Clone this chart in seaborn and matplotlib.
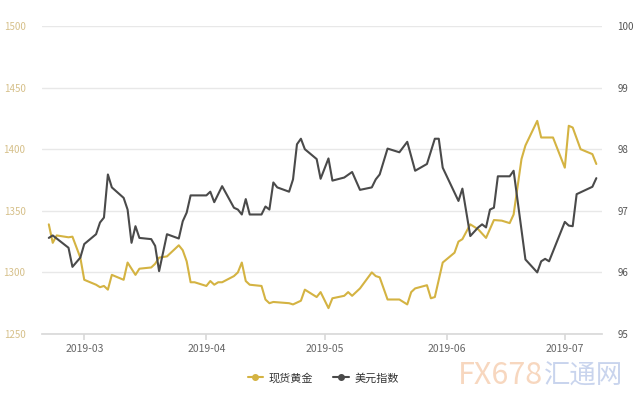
import numpy as np
import pandas as pd
import seaborn as sns
import matplotlib.pyplot as plt
import matplotlib.dates as mdates
from matplotlib.lines import Line2D

# spot gold (left axis)
gold_dates = ['2019-02-20', '2019-02-21', '2019-02-22', '2019-02-25', '2019-02-26', '2019-02-28',
              '2019-03-01', '2019-03-04', '2019-03-05', '2019-03-06', '2019-03-07', '2019-03-08',
              '2019-03-11', '2019-03-12', '2019-03-14', '2019-03-15', '2019-03-18', '2019-03-19',
              '2019-03-20', '2019-03-22', '2019-03-25', '2019-03-26', '2019-03-27', '2019-03-28',
              '2019-03-29', '2019-04-01', '2019-04-02', '2019-04-03', '2019-04-04', '2019-04-05',
              '2019-04-08', '2019-04-09', '2019-04-10', '2019-04-11', '2019-04-12', '2019-04-15',
              '2019-04-16', '2019-04-17', '2019-04-18', '2019-04-22', '2019-04-23', '2019-04-25',
              '2019-04-26', '2019-04-29', '2019-04-30', '2019-05-02', '2019-05-03', '2019-05-06',
              '2019-05-07', '2019-05-08', '2019-05-10', '2019-05-13', '2019-05-14', '2019-05-15',
              '2019-05-17', '2019-05-20', '2019-05-22', '2019-05-23', '2019-05-24', '2019-05-27',
              '2019-05-28', '2019-05-29', '2019-05-31', '2019-06-03', '2019-06-04', '2019-06-05',
              '2019-06-07', '2019-06-09', '2019-06-11', '2019-06-13', '2019-06-15', '2019-06-17',
              '2019-06-18', '2019-06-20', '2019-06-21', '2019-06-24', '2019-06-25', '2019-06-26',
              '2019-06-28', '2019-07-01', '2019-07-02', '2019-07-03', '2019-07-05', '2019-07-08',
              '2019-07-09']
gold_values = [1339, 1324, 1330, 1328.5, 1329, 1312,
               1294, 1290, 1288, 1289, 1286, 1298,
               1294, 1308, 1298, 1303, 1304, 1307,
               1312, 1313, 1322, 1318, 1309, 1292,
               1292, 1289, 1293, 1290, 1292, 1292,
               1297, 1300, 1308, 1293, 1290, 1289,
               1278, 1275, 1276, 1275, 1274, 1277,
               1286, 1280, 1284, 1271, 1279, 1281,
               1284, 1281, 1287, 1300, 1297, 1296,
               1278, 1278, 1274, 1284, 1287, 1289.6,
               1279, 1280, 1308, 1316, 1325, 1327,
               1339, 1335, 1328, 1342.5, 1342, 1340,
               1347, 1392, 1403, 1423, 1409.5, 1409.5,
               1409.5, 1385, 1419, 1417.6, 1400, 1396,
               1388]

# US dollar index (right axis)
dxy_dates = ['2019-02-20', '2019-02-21', '2019-02-22', '2019-02-25', '2019-02-26', '2019-02-28',
             '2019-03-01', '2019-03-04', '2019-03-05', '2019-03-06', '2019-03-07', '2019-03-08',
             '2019-03-11', '2019-03-12', '2019-03-13', '2019-03-14', '2019-03-15', '2019-03-18',
             '2019-03-19', '2019-03-20', '2019-03-22', '2019-03-25', '2019-03-26', '2019-03-27',
             '2019-03-28', '2019-04-01', '2019-04-02', '2019-04-03', '2019-04-05', '2019-04-08',
             '2019-04-09', '2019-04-10', '2019-04-11', '2019-04-12', '2019-04-15', '2019-04-16',
             '2019-04-17', '2019-04-18', '2019-04-19', '2019-04-22', '2019-04-23', '2019-04-24',
             '2019-04-25', '2019-04-26', '2019-04-29', '2019-04-30', '2019-05-02', '2019-05-03',
             '2019-05-06', '2019-05-08', '2019-05-10', '2019-05-13', '2019-05-14', '2019-05-15',
             '2019-05-17', '2019-05-20', '2019-05-22', '2019-05-24', '2019-05-27', '2019-05-29',
             '2019-05-30', '2019-05-31', '2019-06-04', '2019-06-05', '2019-06-07', '2019-06-09',
             '2019-06-10', '2019-06-11', '2019-06-12', '2019-06-13', '2019-06-14', '2019-06-17',
             '2019-06-18', '2019-06-21', '2019-06-24', '2019-06-25', '2019-06-26', '2019-06-27',
             '2019-07-01', '2019-07-02', '2019-07-03', '2019-07-04', '2019-07-08', '2019-07-09']
dxy_values = [96.56, 96.60, 96.55, 96.40, 96.09, 96.24,
              96.46, 96.62, 96.81, 96.89, 97.59, 97.38,
              97.21, 97.02, 96.48, 96.75, 96.56, 96.54,
              96.43, 96.02, 96.62, 96.55, 96.83, 96.97,
              97.25, 97.25, 97.31, 97.14, 97.40, 97.05,
              97.02, 96.94, 97.19, 96.94, 96.94, 97.07,
              97.02, 97.46, 97.38, 97.31, 97.51, 98.08,
              98.17, 98.00, 97.84, 97.52, 97.85, 97.49,
              97.54, 97.63, 97.34, 97.38, 97.51, 97.59,
              98.01, 97.95, 98.12, 97.65, 97.76, 98.17,
              98.17, 97.70, 97.16, 97.36, 96.59, 96.73,
              96.78, 96.73, 97.02, 97.05, 97.56, 97.56,
              97.65, 96.21, 96.00, 96.18, 96.22, 96.18,
              96.82, 96.76, 96.75, 97.27, 97.39, 97.53]

gold_label = '现货黄金'
dxy_label = '美元指数'
left_ticks = [1250, 1300, 1350, 1400, 1450, 1500]
right_ticks = [95, 96, 97, 98, 99, 100]

gold_color = '#d4b342'
dxy_color = '#4a4a4a'

sns.set_theme(style="white")
plt.rcParams['font.family'] = ['Noto Sans CJK SC', 'DejaVu Sans']

gold_df = pd.DataFrame({'date': pd.to_datetime(gold_dates), 'value': gold_values})
dxy_df = pd.DataFrame({'date': pd.to_datetime(dxy_dates), 'value': dxy_values})

fig = plt.figure(figsize=(6.4, 4), dpi=100)
ax = fig.add_axes([0.066, 0.165, 0.875, 0.77])
ax2 = ax.twinx()

sns.lineplot(data=gold_df, x='date', y='value', ax=ax, color=gold_color, linewidth=1.5)
sns.lineplot(data=dxy_df, x='date', y='value', ax=ax2, color=dxy_color, linewidth=1.5)

ax.set_ylim(1250, 1500)
ax2.set_ylim(95, 100)
ax.set_yticks(left_ticks)
ax2.set_yticks(right_ticks)
ax.set_xlim(pd.Timestamp('2019-02-18 08:00'), pd.Timestamp('2019-07-10 12:00'))

for a in (ax, ax2):
    for s in a.spines.values():
        s.set_visible(False)
    a.set_xlabel('')
    a.set_ylabel('')

ax.grid(axis='y', color='#e8e8e8', linewidth=1)
ax.grid(axis='x', visible=False)
ax2.grid(False)
ax.spines['bottom'].set_visible(True)
ax.spines['bottom'].set_color('#d9d9d9')

ax.xaxis.set_major_locator(mdates.MonthLocator())
ax.xaxis.set_major_formatter(mdates.DateFormatter('%Y-%m'))
ax.tick_params(axis='x', bottom=True, length=4, color='#d9d9d9', pad=3,
               labelsize=7.5, labelcolor='#666666')
ax.tick_params(axis='y', left=False, pad=6, labelsize=7, labelcolor='#d6c08a')
ax2.tick_params(axis='y', right=False, pad=5, labelsize=7, labelcolor='#555555')

handles = [Line2D([], [], color=gold_color, marker='o', markersize=4, linewidth=1.5),
           Line2D([], [], color=dxy_color, marker='o', markersize=4, linewidth=1.5)]
fig.legend(handles, [gold_label, dxy_label], loc='center', bbox_to_anchor=(0.505, 0.055),
           ncol=2, frameon=False, fontsize=8, handlelength=1.4, handletextpad=0.5,
           columnspacing=1.8, labelcolor='#333333')

# faint watermark
fig.text(0.715, 0.06, 'FX678', fontsize=22, color='#f7d3b8', ha='left', va='center', alpha=0.9)
fig.text(0.85, 0.06, '汇通网', fontsize=19, color='#c3d0ec', ha='left', va='center', alpha=0.9)

fig.savefig('out.png', dpi=100)
